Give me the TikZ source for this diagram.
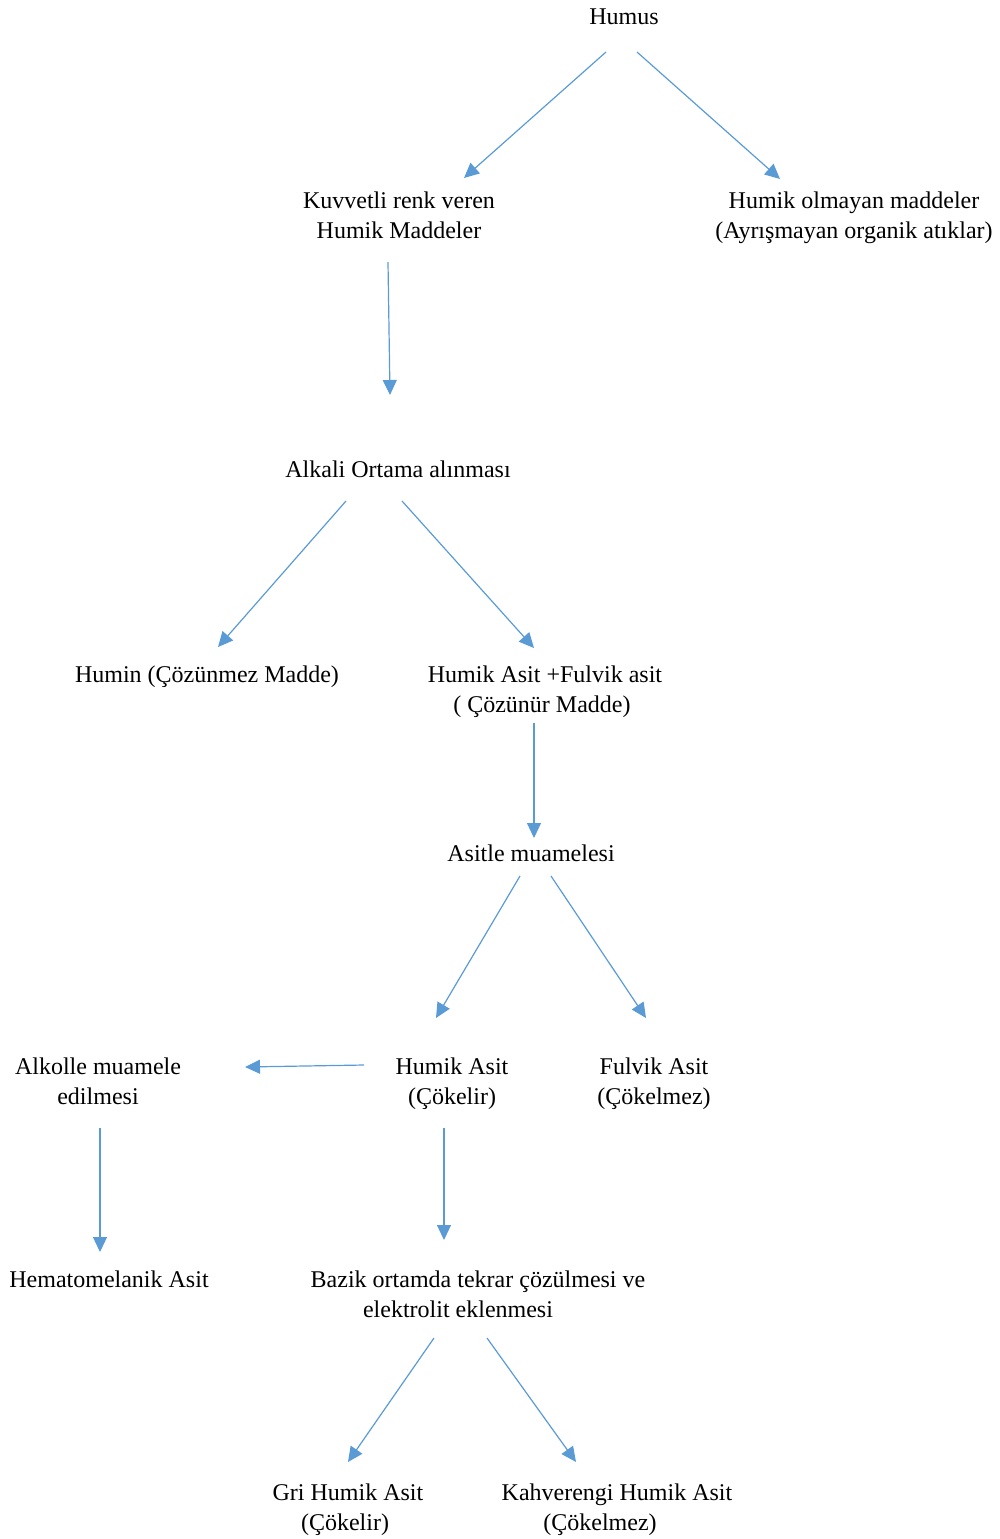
\documentclass[tikz,border=0pt]{standalone}
\usepackage{fontspec}
\setmainfont{Liberation Serif}
\usetikzlibrary{arrows.meta,calc}
\begin{document}
\begin{tikzpicture}[x=0.5pt,y=-0.5pt,
  lbl/.style={inner sep=0pt,align=center,font=\fontsize{12}{15}\selectfont},
  arr/.style={draw={rgb,255:red,91;green,155;blue,213},line width=0.6pt,
    -{Triangle[length=7.5pt,width=7pt,fill={rgb,255:red,91;green,155;blue,213}]}}]
\useasboundingbox (0,0) rectangle (1000,1539);
\node[lbl] (humus) at (624,17) {Humus};
\node[lbl] (kuv) at (399,215) {Kuvvetli renk veren\\Humik Maddeler};
\node[lbl] (hom) at (854,218) {Humik olmayan maddeler\\(Ayrışmayan organik atıklar)};
\node[lbl] (alk) at (398,469) {Alkali Ortama alınması};
\node[lbl] (humin) at (207,677) {Humin (Çözünmez Madde)};
\node[lbl] (hfa) at (545,692) {Humik Asit +Fulvik asit\\( Çözünür Madde)\hspace*{3pt}};
\node[lbl] (asit) at (531,853) {Asitle muamelesi};
\node[lbl] (alko) at (98,1081) {Alkolle muamele\\edilmesi};
\node[lbl] (ha) at (452,1084) {Humik Asit\\(Çökelir)};
\node[lbl] (fa) at (654,1084) {Fulvik Asit\\(Çökelmez)};
\node[lbl] (hem) at (109,1279) {Hematomelanik Asit};
\node[lbl] (baz) at (478,1294) {Bazik ortamda tekrar çözülmesi ve\\elektrolit eklenmesi\hspace*{20pt}};
\node[lbl] (gri) at (348,1510) {Gri Humik Asit\\(Çökelir)\hspace*{3pt}};
\node[lbl] (kah) at (617,1510) {Kahverengi Humik Asit\\(Çökelmez)\hspace*{17pt}};

\draw[arr] ($(humus)+(-18,35)$) -- ($(kuv)+(65,-37)$);
\draw[arr] ($(humus)+(13,35)$) -- ($(hom)+(-74,-39)$);
\draw[arr] ($(kuv)+(-11,47)$) -- ($(alk)+(-8,-74)$);
\draw[arr] ($(alk)+(-52,32)$) -- ($(humin)+(11,-30)$);
\draw[arr] ($(alk)+(4,32)$) -- ($(hfa)+(-11,-44)$);
\draw[arr] ($(hfa)+(-11,31)$) -- ($(asit)+(3,-15)$);
\draw[arr] ($(asit)+(-11,23)$) -- ($(ha)+(-16,-66)$);
\draw[arr] ($(asit)+(20,23)$) -- ($(fa)+(-8,-66)$);
\draw[arr] ($(ha)+(-88,-19)$) -- ($(alko)+(147,-14)$);
\draw[arr] ($(ha)+(-8,44)$) -- ($(baz)+(-34,-54)$);
\draw[arr] ($(alko)+(2,47)$) -- ($(hem)+(-9,-27)$);
\draw[arr] ($(baz)+(-44,44)$) -- ($(gri)+(0,-48)$);
\draw[arr] ($(baz)+(9,44)$) -- ($(kah)+(-41,-48)$);
\end{tikzpicture}
\end{document}
